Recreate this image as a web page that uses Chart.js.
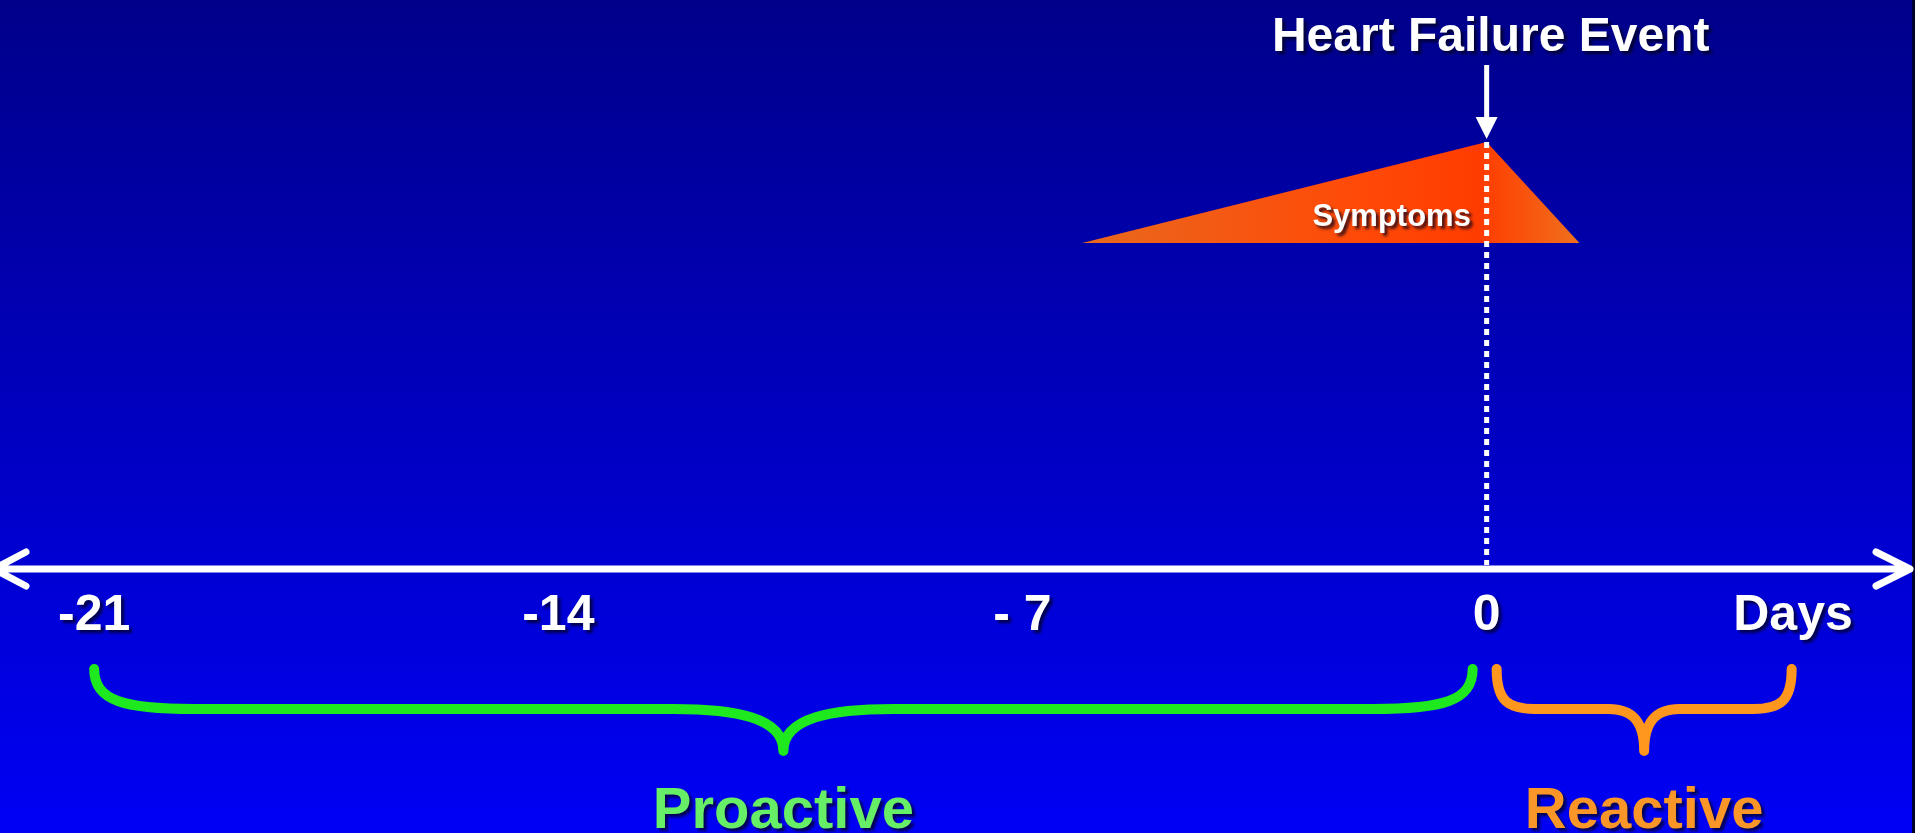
<!DOCTYPE html>
<html>
<head>
<meta charset="utf-8">
<title>Heart Failure Event timeline</title>
<script src="https://cdn.jsdelivr.net/npm/chart.js@4.4.1/dist/chart.umd.min.js"></script>
<style>
  html, body { margin: 0; padding: 0; background: #00008a; overflow: hidden; }
  canvas { display: block; }
</style>
</head>
<body>
<canvas id="timeline" width="1915" height="833"></canvas>
<script>
// timeline ticks (days relative to the event)
const tickDays = [-21, -14, -7, 0];
const tickLabels = ['-21', '-14', '- 7', '0'];

// symptom build-up around the event
const symptomDays = [-6.1, 0, 1.4];
const symptomLevel = [0, 1, 0];

const eventDay = 0;
const eventLabel = 'Heart Failure Event';
const axisTitle = 'Days';

// care phases shown with braces under the axis
const phaseNames = ['Proactive', 'Reactive'];
const phaseFrom = [-21, 0];
const phaseTo = [0, 4.6];

const phaseStroke = ['#1ee81e', '#ff961e'];
const phaseText = ['#66ee66', '#fa9628'];
const FONT = '"Liberation Sans", Arial, Helvetica, sans-serif';

function shadow(ctx, on) {
  ctx.shadowColor = on ? 'rgba(0, 0, 30, 0.75)' : 'transparent';
  ctx.shadowOffsetX = on ? 3 : 0;
  ctx.shadowOffsetY = on ? 3 : 0;
  ctx.shadowBlur = on ? 3 : 0;
}

function drawBrace(ctx, x1, x2, yTop, yFlat, yTip, color) {
  const span = x2 - x1;
  const mid = (x1 + x2) / 2;
  const r = Math.min(100, span * 0.13);
  const w = Math.min(110, span * 0.12);
  ctx.beginPath();
  ctx.moveTo(x1, yTop);
  ctx.bezierCurveTo(x1, yFlat - 8, x1 + r * 0.3, yFlat, x1 + r, yFlat);
  ctx.lineTo(mid - w, yFlat);
  ctx.bezierCurveTo(mid - w * 0.45, yFlat, mid, yFlat + 8, mid, yTip);
  ctx.bezierCurveTo(mid, yFlat + 8, mid + w * 0.45, yFlat, mid + w, yFlat);
  ctx.lineTo(x2 - r, yFlat);
  ctx.bezierCurveTo(x2 - r * 0.3, yFlat, x2, yFlat - 8, x2, yTop);
  ctx.strokeStyle = color;
  ctx.lineWidth = 10;
  ctx.lineCap = 'round';
  ctx.lineJoin = 'round';
  ctx.stroke();
}

// dark-to-bright blue backdrop
const backdrop = {
  id: 'backdrop',
  beforeDraw(chart) {
    const { ctx, width, height } = chart;
    const g = ctx.createLinearGradient(0, 0, 0, height);
    g.addColorStop(0, '#00008a');
    g.addColorStop(1, '#0000f5');
    ctx.save();
    ctx.fillStyle = g;
    ctx.fillRect(0, 0, width, height);
    ctx.fillStyle = '#000030';
    ctx.fillRect(width - 3, 0, 3, height);
    ctx.restore();
  }
};

// axis, event marker, braces and labels
const timeline = {
  id: 'timeline',
  afterDatasetsDraw(chart) {
    const { ctx, chartArea } = chart;
    const x = chart.scales.x;
    const ys = chart.scales.ySym;
    const axisY = chartArea.top + 569;
    const ex = x.getPixelForValue(eventDay);
    const peakY = ys.getPixelForValue(Math.max(...symptomLevel));

    ctx.save();

    // dotted event line
    ctx.strokeStyle = '#ffffff';
    ctx.lineWidth = 5;
    ctx.setLineDash([6, 5]);
    ctx.beginPath();
    ctx.moveTo(ex, peakY);
    ctx.lineTo(ex, axisY - 4);
    ctx.stroke();
    ctx.setLineDash([]);

    // symptoms label inside the triangle
    shadow(ctx, true);
    ctx.fillStyle = '#ffffff';
    ctx.textAlign = 'center';
    ctx.textBaseline = 'alphabetic';
    ctx.font = 'bold 31px ' + FONT;
    ctx.fillText('Symptoms', ex - 95, ys.getPixelForValue(0) - 17);

    // event title and arrow
    ctx.font = 'bold 48px ' + FONT;
    ctx.fillText(eventLabel, ex + 4, chartArea.top + 51);
    shadow(ctx, false);
    ctx.strokeStyle = '#ffffff';
    ctx.lineWidth = 5;
    ctx.lineCap = 'butt';
    ctx.beginPath();
    ctx.moveTo(ex, chartArea.top + 65);
    ctx.lineTo(ex, chartArea.top + 120);
    ctx.stroke();
    ctx.fillStyle = '#ffffff';
    ctx.beginPath();
    ctx.moveTo(ex - 11, chartArea.top + 117);
    ctx.lineTo(ex + 11, chartArea.top + 117);
    ctx.lineTo(ex, chartArea.top + 139);
    ctx.closePath();
    ctx.fill();

    // double-headed day axis
    const left = chartArea.left - 6;
    const right = chartArea.right - 5;
    ctx.lineWidth = 7;
    ctx.lineCap = 'round';
    ctx.lineJoin = 'round';
    ctx.beginPath();
    ctx.moveTo(left, axisY);
    ctx.lineTo(right, axisY);
    ctx.moveTo(right - 34, axisY - 17);
    ctx.lineTo(right, axisY);
    ctx.lineTo(right - 34, axisY + 17);
    ctx.moveTo(left + 32, axisY - 17);
    ctx.lineTo(left, axisY);
    ctx.lineTo(left + 32, axisY + 17);
    ctx.stroke();

    // tick labels and axis title
    shadow(ctx, true);
    ctx.font = 'bold 50px ' + FONT;
    ctx.fillStyle = '#ffffff';
    tickDays.forEach((d, i) => {
      ctx.fillText(tickLabels[i], x.getPixelForValue(d), axisY + 61);
    });
    ctx.fillText(axisTitle, chartArea.right - 122, axisY + 61);

    // phase braces
    shadow(ctx, false);
    phaseNames.forEach((name, i) => {
      let x1 = x.getPixelForValue(phaseFrom[i]);
      let x2 = x.getPixelForValue(phaseTo[i]);
      if (phaseFrom[i] === eventDay) x1 += 10;
      if (phaseTo[i] === eventDay) x2 -= 14;
      drawBrace(ctx, x1, x2, axisY + 100, axisY + 140, axisY + 182, phaseStroke[i]);
      shadow(ctx, true);
      ctx.font = 'bold 58px ' + FONT;
      ctx.fillStyle = phaseText[i];
      ctx.fillText(name, (x1 + x2) / 2, chartArea.top + 828);
      shadow(ctx, false);
    });

    ctx.restore();
  }
};

new Chart(document.getElementById('timeline'), {
  type: 'line',
  data: {
    datasets: [{
      label: 'Symptoms',
      data: symptomDays.map((d, i) => ({ x: d, y: symptomLevel[i] })),
      yAxisID: 'ySym',
      fill: 'origin',
      borderWidth: 0,
      pointRadius: 0,
      tension: 0,
      backgroundColor: (c) => {
        const { chart } = c;
        if (!chart.chartArea) return '#ff4a08';
        const x = chart.scales.x;
        const g = chart.ctx.createLinearGradient(
          x.getPixelForValue(symptomDays[0]), 0,
          x.getPixelForValue(symptomDays[symptomDays.length - 1]), 0);
        g.addColorStop(0, '#e8681e');
        g.addColorStop(0.55, '#ff4a08');
        g.addColorStop(0.8, '#ff3c00');
        g.addColorStop(1, '#f0701e');
        return g;
      }
    }]
  },
  options: {
    responsive: false,
    animation: false,
    devicePixelRatio: 1,
    layout: { padding: 0 },
    scales: {
      x: { type: 'linear', min: -22.42, max: 6.46, display: false },
      ySym: { type: 'linear', position: 'left', min: -5.842, max: 2.406, display: false }
    },
    plugins: {
      legend: { display: false },
      tooltip: { enabled: false }
    }
  },
  plugins: [backdrop, timeline]
});
</script>
</body>
</html>
